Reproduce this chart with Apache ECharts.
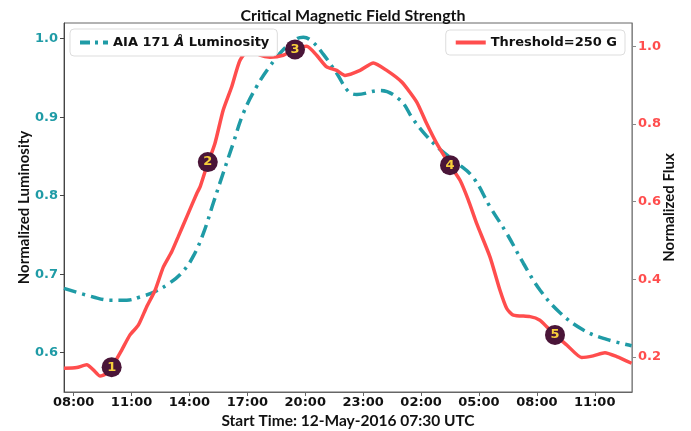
<!DOCTYPE html>
<html>
<head>
<meta charset="utf-8">
<script src="https://cdn.jsdelivr.net/npm/echarts@6/dist/echarts.min.js"></script>
<style>html,body{margin:0;padding:0;background:#fff}#c{width:691px;height:431px}</style>
</head>
<body>
<div id="c"></div>
<script>
// hours since start (12-May-2016 07:30 UTC)
const lumTime = [0, 1.52, 2.38, 3.25, 3.94, 4.63, 5.49, 6.18, 6.70, 7.22, 7.74, 8.25, 8.77, 9.29, 9.98, 10.67, 11.36, 12.06, 12.40, 12.92, 13.44, 14.13, 14.73, 15.17, 16.37, 17.41, 18.10, 18.79, 19.48, 20.35, 21.21, 22.07, 22.94, 23.80, 24.66, 25.70, 26.91, 28.12, 29.41];
const lumValue = [0.682, 0.671, 0.667, 0.667, 0.671, 0.677, 0.689, 0.704, 0.723, 0.752, 0.791, 0.829, 0.867, 0.905, 0.939, 0.965, 0.986, 1.000, 1.002, 0.995, 0.980, 0.956, 0.933, 0.929, 0.934, 0.922, 0.897, 0.876, 0.859, 0.842, 0.823, 0.786, 0.752, 0.714, 0.680, 0.651, 0.629, 0.617, 0.609];
const fluxTime = [0, 0.66, 1.18, 1.52, 1.87, 2.21, 2.55, 2.99, 3.42, 3.85, 4.28, 4.72, 5.15, 5.58, 5.92, 6.36, 6.88, 7.05, 7.39, 7.82, 8.25, 8.69, 9.12, 9.64, 10.16, 10.67, 11.36, 11.97, 12.58, 13.09, 13.61, 14.13, 14.56, 15.34, 16.03, 16.72, 17.50, 18.27, 18.79, 19.31, 20.0, 20.52, 20.95, 21.38, 22.07, 22.59, 22.94, 23.28, 24.15, 24.66, 25.01, 25.44, 26.05, 26.82, 27.42, 28.03, 28.64, 29.41];
const fluxValue = [0.171, 0.173, 0.180, 0.167, 0.151, 0.158, 0.180, 0.218, 0.257, 0.282, 0.329, 0.372, 0.432, 0.471, 0.510, 0.561, 0.621, 0.638, 0.690, 0.750, 0.836, 0.896, 0.964, 0.994, 0.977, 0.972, 0.977, 0.992, 1.000, 0.977, 0.947, 0.938, 0.925, 0.938, 0.957, 0.938, 0.908, 0.857, 0.801, 0.750, 0.694, 0.655, 0.604, 0.544, 0.458, 0.372, 0.325, 0.308, 0.304, 0.295, 0.278, 0.257, 0.231, 0.199, 0.203, 0.211, 0.201, 0.184];
const markerLabels = ['1', '2', '3', '4', '5'];
const markerTime = [2.47, 7.45, 11.97, 20.0, 25.44];
const markerValue = [0.174, 0.702, 0.992, 0.694, 0.257];
const xTickHours = [0.5, 3.5, 6.5, 9.5, 12.5, 15.5, 18.5, 21.5, 24.5, 27.5];
const xTickLabels = ['08:00', '11:00', '14:00', '17:00', '20:00', '23:00', '02:00', '05:00', '08:00', '11:00'];
const leftTicks = [0.6, 0.7, 0.8, 0.9, 1.0];
const rightTicks = [0.2, 0.4, 0.6, 0.8, 1.0];

const TEAL = '#1f9ba6', RED = '#ff4d4d';
const chart = echarts.init(document.getElementById('c'), null, {renderer: 'canvas'});
const zip = (a, b) => a.map((v, i) => [v, b[i]]);
chart.setOption({
  animation: false,
  title: {
    text: 'Critical Magnetic Field Strength', left: 348, top: 3, textAlign: 'center',
    textStyle: {fontFamily: 'Lato', fontWeight: 'bold', fontSize: 16, color: '#111'}
  },
  grid: {left: 64, right: 59, top: 23, bottom: 39, show: true, borderColor: '#666', borderWidth: 1, outerBoundsMode: 'none', containLabel: false},
  legend: [
    {
      data: ['AIA 171 Å Luminosity'], left: 70, top: 29, backgroundColor: '#fff', borderColor: '#ddd', borderWidth: 1, borderRadius: 4,
      padding: [7, 8, 7, 8], itemWidth: 28, itemHeight: 10, itemGap: 6,
      itemStyle: {opacity: 0},
      lineStyle: {width: 4, type: [10, 5, 3, 5]},
      formatter: () => '{a|AIA 171 }{i|Å}{a| Luminosity}',
      textStyle: {rich: {
        a: {fontFamily: 'DejaVu Sans', fontWeight: 'bold', fontSize: 13, color: '#111'},
        i: {fontFamily: 'DejaVu Sans', fontWeight: 'bold', fontStyle: 'italic', fontSize: 13, color: '#111'}
      }}
    },
    {
      data: ['Threshold=250 G'], right: 66, top: 30, backgroundColor: '#fff', borderColor: '#ddd', borderWidth: 1, borderRadius: 4,
      padding: [6, 8, 6, 8], itemWidth: 30, itemHeight: 10,
      itemStyle: {opacity: 0},
      lineStyle: {width: 4},
      textStyle: {fontFamily: 'DejaVu Sans', fontWeight: 'bold', fontSize: 13, color: '#111'}
    }
  ],
  xAxis: {
    type: 'value', min: 0, max: 29.43,
    name: 'Start Time: 12-May-2016 07:30 UTC', nameLocation: 'middle', nameGap: 21, nameMoveOverlap: false,
    nameTextStyle: {fontFamily: 'Lato', fontWeight: 'bold', fontSize: 15.5, color: '#111'},
    splitLine: {show: false},
    axisLine: {show: true, lineStyle: {color: '#666'}},
    axisTick: {show: true, length: 4, lineStyle: {color: '#666'}, customValues: xTickHours},
    axisLabel: {
      customValues: xTickHours, margin: 4,
      formatter: v => xTickLabels[xTickHours.findIndex(t => Math.abs(t - v) < 1e-6)] || '',
      fontFamily: 'DejaVu Sans', fontWeight: 'bold', fontSize: 13, color: '#111'
    }
  },
  yAxis: [
    {
      type: 'value', min: 0.55, max: 1.02, position: 'left',
      name: 'Normalized Luminosity', nameLocation: 'middle', nameGap: 32, nameMoveOverlap: false,
      nameTextStyle: {fontFamily: 'Lato', fontWeight: 'bold', fontSize: 15, color: '#111'},
      splitLine: {show: false},
      axisLine: {show: true, lineStyle: {color: '#444'}},
      axisTick: {show: true, length: 4, lineStyle: {color: '#444'}, customValues: leftTicks},
      axisLabel: {customValues: leftTicks, formatter: v => v.toFixed(1), margin: 6,
        fontFamily: 'DejaVu Sans', fontWeight: 'bold', fontSize: 13, color: TEAL}
    },
    {
      type: 'value', min: 0.11, max: 1.06, position: 'right',
      name: 'Normalized Flux', nameLocation: 'middle', nameGap: 30, nameRotate: 90, nameMoveOverlap: false,
      nameTextStyle: {fontFamily: 'Lato', fontWeight: 'bold', fontSize: 15, color: '#111'},
      splitLine: {show: false},
      axisLine: {show: true, lineStyle: {color: '#888'}},
      axisTick: {show: true, length: 4, lineStyle: {color: '#888'}, customValues: rightTicks},
      axisLabel: {customValues: rightTicks, formatter: v => v.toFixed(1), margin: 6,
        fontFamily: 'DejaVu Sans', fontWeight: 'bold', fontSize: 13, color: RED}
    }
  ],
  series: [
    {
      name: 'AIA 171 Å Luminosity', type: 'line', yAxisIndex: 0, data: zip(lumTime, lumValue),
      smooth: 0.4, showSymbol: false, symbol: 'none', color: TEAL,
      lineStyle: {color: TEAL, width: 3.5, type: [13, 6, 3, 6]}, z: 2
    },
    {
      name: 'Threshold=250 G', type: 'line', yAxisIndex: 1, data: zip(fluxTime, fluxValue),
      smooth: 0.2, showSymbol: false, symbol: 'none', color: RED,
      lineStyle: {color: RED, width: 3.5}, z: 3
    },
    {
      name: 'events', type: 'scatter', yAxisIndex: 1,
      data: markerTime.map((t, i) => ({name: markerLabels[i], value: [t, markerValue[i]]})),
      symbolSize: 20, itemStyle: {color: '#4a1538', opacity: 1}, z: 5,
      label: {show: true, position: 'inside', formatter: p => p.name,
        fontFamily: 'DejaVu Sans', fontWeight: 'bold', fontSize: 13, color: '#f7cf3b'}
    }
  ]
});
</script>
</body>
</html>
